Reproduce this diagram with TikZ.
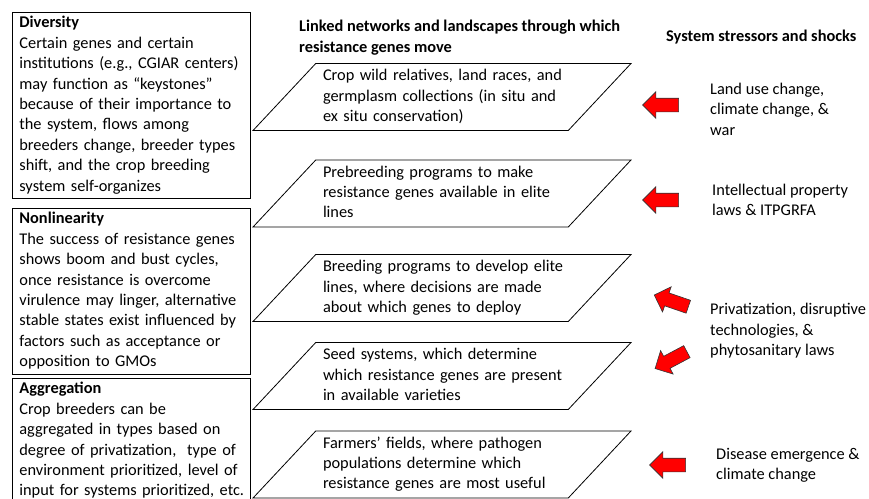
\documentclass[tikz,border=0pt]{standalone}
\usepackage{fontspec}
\setmainfont{Carlito}
\usetikzlibrary{shapes.geometric,shapes.arrows}

\newcommand{\nodelines}[1]{\begin{tabular}{@{}l@{}}#1\end{tabular}}

\begin{document}
\begin{tikzpicture}[
  x=1pt, y=-1pt,
  every node/.style={font=\fontsize{16.35}{20.4}\selectfont},
  property/.style={draw, line width=0.8pt, anchor=north west, text width=224pt, align=left, inner xsep=7pt, inner ysep=1.2pt},
  network/.style={draw, line width=0.8pt, trapezium, trapezium left angle=46, trapezium right angle=134, trapezium stretches=true, minimum width=380pt, minimum height=67pt, text width=238pt, align=left, inner sep=0pt},
  heading/.style={font=\fontsize{16.35}{20.4}\selectfont\bfseries, align=left, anchor=west, inner sep=0pt},
  stressor/.style={align=left, anchor=west, inner sep=0pt},
  shock/.style={single arrow, draw=black!80, line width=0.6pt, fill=red, minimum height=36pt, inner xsep=0pt, inner ysep=6.5pt, single arrow head extend=6.5pt, single arrow head indent=0pt}
]
\useasboundingbox (0,0) rectangle (869,498);

\node[property] (div) at (12,12) {\nodelines{\textbf{Diversity}\\
  Certain genes and certain\\
  institutions (e.g., CGIAR centers)\\
  may function as “keystones”\\
  because of their importance to\\
  the system, flows among\\
  breeders change, breeder types\\
  shift, and the crop breeding\\
  system self-organizes}};
\node[property] (nonlin) at (12,208) {\nodelines{\textbf{Nonlinearity}\\
  The success of resistance genes\\
  shows boom and bust cycles,\\
  once resistance is overcome\\
  virulence may linger, alternative\\
  stable states exist influenced by\\
  factors such as acceptance or\\
  opposition to GMOs}};
\node[property] (aggr) at (12,378) {\nodelines{\textbf{Aggregation}\\
  Crop breeders can be\\
  aggregated in types based on\\
  degree of privatization,\ \ type of\\
  environment prioritized, level of\\
  input for systems prioritized, etc.}};

\node[heading] (networks) at (299,37.5) {Linked networks and landscapes through which\\resistance genes move};
\node[heading] (stressors) at (666,37) {System stressors and shocks};

\node[network] (wild) at (442,97) {\nodelines{Crop wild relatives, land races, and\\
  germplasm collections (in situ and\\
  ex situ conservation)}};
\node[network] (prebreed) at (442,193.5) {\nodelines{Prebreeding programs to make\\
  resistance genes available in elite\\
  lines}};
\node[network] (breed) at (442,288) {\nodelines{Breeding programs to develop elite\\
  lines, where decisions are made\\
  about which genes to deploy}};
\node[network] (seed) at (442,376) {\nodelines{Seed systems, which determine\\
  which resistance genes are present\\
  in available varieties}};
\node[network] (fields) at (442,464.5) {\nodelines{Farmers’ fields, where pathogen\\
  populations determine which\\
  resistance genes are most useful}};

\node[stressor] (landuse) at (710,109) {Land use change,\\climate change, \&\\war};
\node[stressor] (ipr) at (712,200) {Intellectual property\\laws \& ITPGRFA};
\node[stressor] (privat) at (710,331) {Privatization, disruptive\\technologies, \&\\phytosanitary laws};
\node[stressor] (disease) at (716,465) {Disease emergence \&\\climate change};

\node[shock, rotate=180] (landuse arrow) at (664,105) {};
\node[shock, rotate=180] (ipr arrow) at (664,200) {};
\node[shock, rotate=161] (breed arrow) at (674.5,302) {};
\node[shock, rotate=208] (seed arrow) at (674,358.5) {};
\node[shock, rotate=180] (disease arrow) at (671,465) {};
\end{tikzpicture}
\end{document}
